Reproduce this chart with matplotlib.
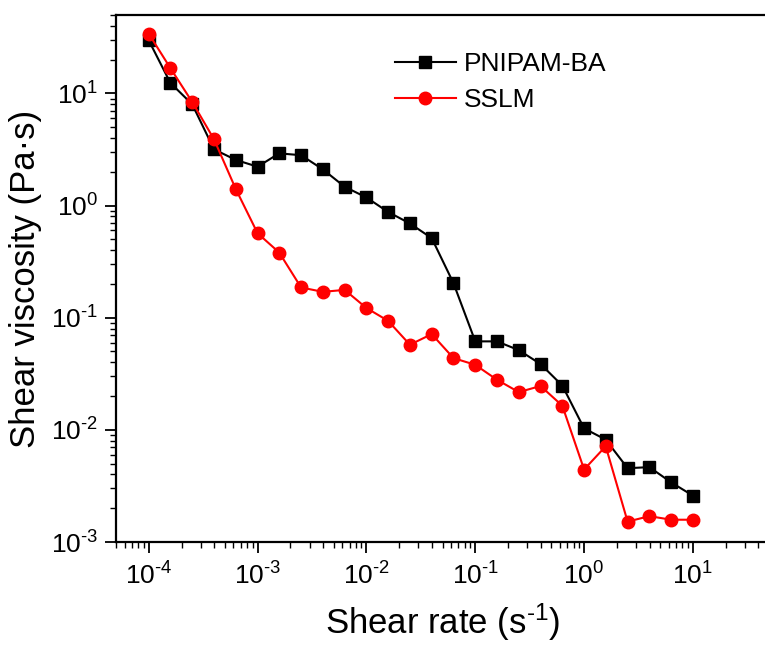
import numpy as np
import matplotlib
matplotlib.use("Agg")
from matplotlib import pyplot as plt
from matplotlib.ticker import LogLocator, FixedLocator, FuncFormatter, NullFormatter

plt.rcParams['font.family'] = ['Liberation Sans', 'DejaVu Sans']
plt.rcParams['mathtext.fontset'] = 'custom'
plt.rcParams['mathtext.rm'] = 'Liberation Sans'
plt.rcParams['mathtext.it'] = 'Liberation Sans'
plt.rcParams['mathtext.default'] = 'regular'
plt.rcParams['axes.unicode_minus'] = False

# shear rate, 5 points per decade (s^-1)
shear_rate = [1e-4, 1.58e-4, 2.51e-4, 3.98e-4, 6.31e-4,
              1e-3, 1.58e-3, 2.51e-3, 3.98e-3, 6.31e-3,
              1e-2, 1.58e-2, 2.51e-2, 3.98e-2, 6.31e-2,
              0.1, 0.158, 0.251, 0.398, 0.631,
              1.0, 1.58, 2.51, 3.98, 6.31, 10.0]

# viscosity (Pa.s)
pnipam_ba = [29.7, 12.4, 7.98, 3.17, 2.55,
             2.22, 2.92, 2.81, 2.10, 1.47,
             1.18, 0.877, 0.692, 0.512, 0.203,
             0.0615, 0.0615, 0.0514, 0.0386, 0.0248,
             0.0103, 0.00818, 0.00455, 0.00465, 0.0034, 0.00259]

sslm = [34.0, 16.8, 8.37, 3.89, 1.40,
        0.566, 0.381, 0.186, 0.170, 0.177,
        0.122, 0.0938, 0.0574, 0.0714, 0.0436,
        0.038, 0.028, 0.0217, 0.0246, 0.0164,
        0.00443, 0.00714, 0.00152, 0.00170, 0.00158, 0.00158]

x_decades = [1e-4, 1e-3, 1e-2, 1e-1, 1e0, 1e1]
y_decades = [1e-3, 1e-2, 1e-1, 1e0, 1e1]


# 10^n labels with a plain hyphen, like Origin draws them
def pow10_label(v, pos):
    n = int(round(np.log10(v)))
    return r'10$^{\text{%d}}$' % n


fig = plt.figure(figsize=(7.65, 6.46), dpi=100)
# right spine falls just outside the picture, like the reference
ax = fig.add_axes([116/765, 104/646, 653/765, 527/646])

ax.plot(shear_rate, pnipam_ba, color='black', lw=1.5, marker='s', ms=8, label='PNIPAM-BA')
ax.plot(shear_rate, sslm, color='red', lw=1.5, marker='o', ms=9, label='SSLM')

ax.set_xscale('log')
ax.set_yscale('log')
ax.set_xlim(5e-5, 50)
ax.set_ylim(1e-3, 50)

ax.xaxis.set_major_locator(FixedLocator(x_decades))
ax.yaxis.set_major_locator(FixedLocator(y_decades))
ax.xaxis.set_minor_locator(LogLocator(base=10, subs=np.arange(2, 10), numticks=20))
ax.yaxis.set_minor_locator(LogLocator(base=10, subs=np.arange(2, 10), numticks=20))
ax.xaxis.set_major_formatter(FuncFormatter(pow10_label))
ax.yaxis.set_major_formatter(FuncFormatter(pow10_label))
ax.xaxis.set_minor_formatter(NullFormatter())
ax.yaxis.set_minor_formatter(NullFormatter())

for s in ax.spines.values():
    s.set_linewidth(1.6)

ax.tick_params(which='major', direction='out', length=8, width=1.3, labelsize=19)
ax.tick_params(which='minor', direction='out', length=4, width=1.0)
ax.tick_params(axis='x', which='major', pad=7)
ax.tick_params(axis='y', which='major', pad=5)

ax.set_xlabel(r'Shear rate (s$^{\text{-1}}$)', fontsize=25, labelpad=8)
ax.set_ylabel('Shear viscosity (Pa·s)', fontsize=25, labelpad=6)

ax.legend(loc='upper left', bbox_to_anchor=(0.427, 0.93), frameon=False,
          fontsize=19, handlelength=2.3, handletextpad=0.3,
          borderpad=0, borderaxespad=0, labelspacing=0.45)

fig.savefig('out.png', dpi=100)
